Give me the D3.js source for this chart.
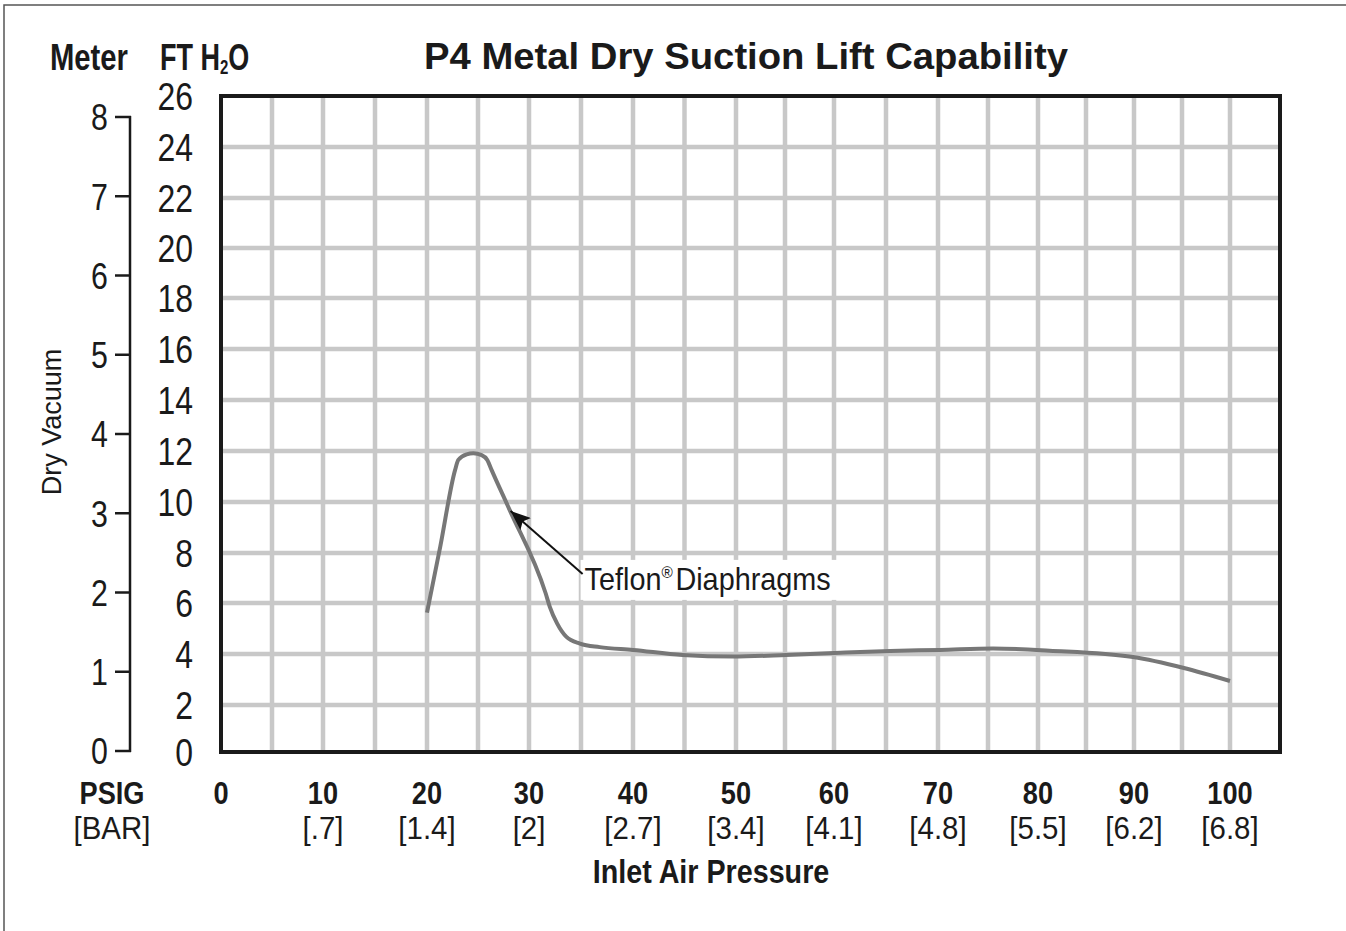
<!DOCTYPE html>
<html>
<head>
<meta charset="utf-8">
<script src="https://cdn.jsdelivr.net/npm/d3@7"></script>
<style>
  body { margin: 0; background: #fff; }
  text { fill: #1a1a1a; }
</style>
</head>
<body>
<script>
// chart values
var psigTicks = [0, 10, 20, 30, 40, 50, 60, 70, 80, 90, 100];
var barLabels = ['', '[.7]', '[1.4]', '[2]', '[2.7]', '[3.4]', '[4.1]', '[4.8]', '[5.5]', '[6.2]', '[6.8]'];
var ftTicks = [0, 2, 4, 6, 8, 10, 12, 14, 16, 18, 20, 22, 24, 26];
var meterTicks = [0, 1, 2, 3, 4, 5, 6, 7, 8];

// teflon diaphragm curve (psig, ft H2O)
var curvePsig = [20.0, 21.3, 22.75, 23.07, 23.89, 24.54, 25.36, 25.91, 26.34, 28.1, 31.6, 32.0, 32.7, 33.6, 34.9, 36.8, 40, 44.8, 49.7, 55.1, 60.6, 65.4, 70.2, 75.5, 81.2, 89.9, 95.2, 100];
var curveFt = [5.62, 8.25, 11.25, 11.65, 11.87, 11.91, 11.84, 11.65, 11.25, 9.69, 6.39, 5.85, 5.20, 4.67, 4.41, 4.27, 4.16, 3.96, 3.90, 3.96, 4.05, 4.12, 4.16, 4.22, 4.13, 3.88, 3.45, 2.94];

var width = 1346,
    height = 931;

var sans = "'Liberation Sans', Arial, sans-serif";

// the printed grid is not quite even, so piecewise scales
var x = d3.scaleLinear()
  .domain(psigTicks.concat([105]))
  .range([221, 323, 427, 529, 633, 736, 834, 938, 1038, 1134, 1230, 1280]);

var y = d3.scaleLinear()
  .domain(ftTicks)
  .range([752, 705, 654, 603, 553, 502, 451, 400, 349, 298, 248, 198, 147, 96]);

var yMeter = d3.scaleLinear()
  .domain([0, 8])
  .range([751, 117]);

// no condensed face installed, so squeeze text horizontally
function squeeze(tx, ty, sx) {
  return 'translate(' + tx + ',' + ty + ') scale(' + sx + ',1)';
}

var svg = d3.select('body')
  .append('svg')
  .attr('width', width)
  .attr('height', height)
  .style('font-family', sans);

svg.append('defs').append('marker')
  .attr('id', 'head')
  .attr('viewBox', '0 0 20 16')
  .attr('refX', 20)
  .attr('refY', 8)
  .attr('markerWidth', 20)
  .attr('markerHeight', 16)
  .attr('markerUnits', 'userSpaceOnUse')
  .attr('orient', 'auto')
  .append('path')
  .attr('d', 'M0,0 L20,8 L0,16 L4,8 Z')
  .attr('fill', '#111');

// page frame (top and left only)
svg.append('path')
  .attr('d', 'M4,' + height + ' V5 H' + width)
  .attr('fill', 'none')
  .attr('stroke', '#555')
  .attr('stroke-width', 1.5);

// grid
var grid = svg.append('g')
  .attr('stroke', '#c8c8c8')
  .attr('stroke-width', 4.5);

grid.selectAll('.vx')
  .data(d3.range(5, 105, 5))
  .enter().append('line')
  .attr('x1', function(d) { return x(d); })
  .attr('x2', function(d) { return x(d); })
  .attr('y1', y(26))
  .attr('y2', y(0));

grid.selectAll('.hy')
  .data(ftTicks.slice(1, -1))
  .enter().append('line')
  .attr('x1', x(0))
  .attr('x2', x(105))
  .attr('y1', function(d) { return y(d); })
  .attr('y2', function(d) { return y(d); });

// curve
var line = d3.line()
  .x(function(d, i) { return x(curvePsig[i]); })
  .y(function(d, i) { return y(curveFt[i]); })
  .curve(d3.curveMonotoneX);

svg.append('path')
  .datum(curvePsig)
  .attr('d', line)
  .attr('fill', 'none')
  .attr('stroke', '#777')
  .attr('stroke-width', 4);

// plot border
svg.append('rect')
  .attr('x', x(0))
  .attr('y', y(26))
  .attr('width', x(105) - x(0))
  .attr('height', y(0) - y(26))
  .attr('fill', 'none')
  .attr('stroke', '#1a1a1a')
  .attr('stroke-width', 4);

// annotation
var tipX = x(28.1), tipY = y(9.69);
var labX = tipX + 75, labY = tipY + 80;

svg.append('rect')
  .attr('x', labX - 4)
  .attr('y', labY - 30)
  .attr('width', 262)
  .attr('height', 40)
  .attr('fill', '#fff');

svg.append('line')
  .attr('x1', labX - 2)
  .attr('y1', labY - 16)
  .attr('x2', tipX + 1)
  .attr('y2', tipY + 1)
  .attr('stroke', '#111')
  .attr('stroke-width', 2)
  .attr('marker-end', 'url(#head)');

var note = svg.append('text')
  .attr('transform', squeeze(labX, labY, 0.9))
  .attr('font-size', 32);
note.append('tspan').text('Teflon');
note.append('tspan').attr('font-size', 17).attr('dy', -12).text('®');
note.append('tspan').attr('dy', 12).attr('dx', 3).text('Diaphragms');

// title and headers
svg.append('text')
  .attr('x', 424)
  .attr('y', 69)
  .attr('font-weight', 'bold')
  .attr('font-size', 37)
  .attr('textLength', 644)
  .attr('lengthAdjust', 'spacingAndGlyphs')
  .text('P4 Metal Dry Suction Lift Capability');

svg.append('text')
  .attr('x', 50)
  .attr('y', 70)
  .attr('font-weight', 'bold')
  .attr('font-size', 36)
  .attr('textLength', 78)
  .attr('lengthAdjust', 'spacingAndGlyphs')
  .text('Meter');

var ftHead = svg.append('text')
  .attr('transform', squeeze(160, 70, 0.75))
  .attr('font-weight', 'bold')
  .attr('font-size', 36);
ftHead.append('tspan').text('FT H');
ftHead.append('tspan').attr('font-size', 20).attr('dy', 4).text('2');
ftHead.append('tspan').attr('dy', -4).text('O');

// ft labels
svg.selectAll('.ftl')
  .data(ftTicks)
  .enter().append('text')
  .attr('transform', function(d) { return squeeze(193, y(d), 0.82); })
  .attr('dy', '0.36em')
  .attr('text-anchor', 'end')
  .attr('font-size', 39)
  .text(function(d) { return d; });

// meter axis
var mAxis = svg.append('g')
  .attr('stroke', '#1a1a1a')
  .attr('stroke-width', 2.5);

mAxis.append('line')
  .attr('x1', 130)
  .attr('x2', 130)
  .attr('y1', yMeter(8) - 1)
  .attr('y2', yMeter(0) + 1);

mAxis.selectAll('.mt')
  .data(meterTicks)
  .enter().append('line')
  .attr('x1', 115)
  .attr('x2', 131)
  .attr('y1', function(d) { return yMeter(d); })
  .attr('y2', function(d) { return yMeter(d); });

svg.selectAll('.ml')
  .data(meterTicks)
  .enter().append('text')
  .attr('transform', function(d) { return squeeze(108, yMeter(d), 0.82); })
  .attr('dy', '0.36em')
  .attr('text-anchor', 'end')
  .attr('font-size', 37)
  .text(function(d) { return d; });

svg.append('text')
  .attr('transform', 'translate(61,422) rotate(-90)')
  .attr('text-anchor', 'middle')
  .attr('font-size', 27)
  .text('Dry Vacuum');

// x labels
svg.selectAll('.pl')
  .data(psigTicks)
  .enter().append('text')
  .attr('transform', function(d) { return squeeze(x(d), 804, 0.85); })
  .attr('text-anchor', 'middle')
  .attr('font-weight', 'bold')
  .attr('font-size', 32)
  .text(function(d) { return d; });

svg.selectAll('.bl')
  .data(barLabels)
  .enter().append('text')
  .attr('transform', function(d, i) { return squeeze(x(psigTicks[i]), 839, 0.95); })
  .attr('text-anchor', 'middle')
  .attr('font-size', 31)
  .text(function(d) { return d; });

svg.append('text')
  .attr('transform', squeeze(112, 804, 0.85))
  .attr('text-anchor', 'middle')
  .attr('font-weight', 'bold')
  .attr('font-size', 32)
  .text('PSIG');

svg.append('text')
  .attr('transform', squeeze(112, 839, 0.95))
  .attr('text-anchor', 'middle')
  .attr('font-size', 31)
  .text('[BAR]');

svg.append('text')
  .attr('transform', squeeze(711, 883, 0.87))
  .attr('text-anchor', 'middle')
  .attr('font-weight', 'bold')
  .attr('font-size', 33)
  .text('Inlet Air Pressure');
</script>
</body>
</html>
